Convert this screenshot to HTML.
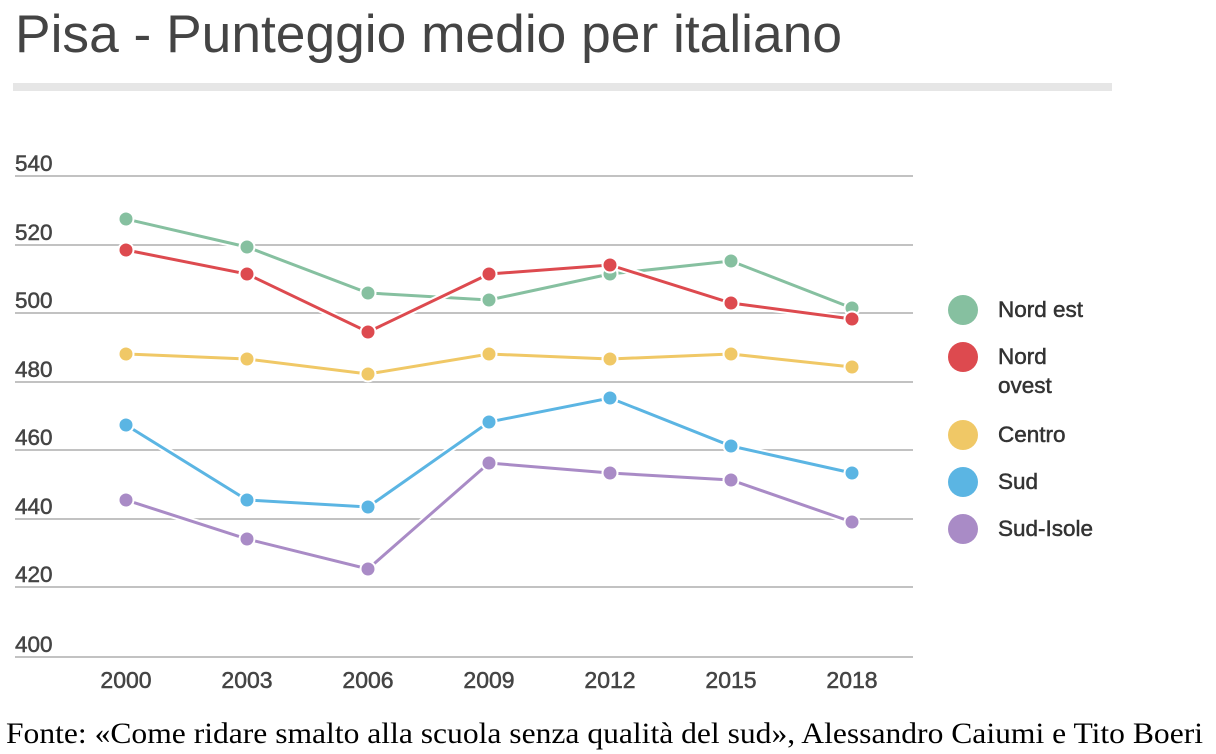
<!DOCTYPE html>
<html><head><meta charset="utf-8"><style>
html,body{margin:0;padding:0;background:#fff;}
svg{display:block;}
</style></head><body>
<svg width="1216" height="754" viewBox="0 0 1216 754" xmlns="http://www.w3.org/2000/svg">
<rect width="1216" height="754" fill="#fff"/>
<text x="15" y="52" font-family="Liberation Sans, sans-serif" font-size="53" fill="#444" textLength="827" lengthAdjust="spacingAndGlyphs">Pisa - Punteggio medio per italiano</text>
<rect x="13" y="83" width="1099" height="8" fill="#e6e6e6"/>
<g stroke="#c2c2c2" stroke-width="2">
<line x1="15" y1="176" x2="913" y2="176"/>
<line x1="15" y1="245" x2="913" y2="245"/>
<line x1="15" y1="313" x2="913" y2="313"/>
<line x1="15" y1="382" x2="913" y2="382"/>
<line x1="15" y1="450" x2="913" y2="450"/>
<line x1="15" y1="519" x2="913" y2="519"/>
<line x1="15" y1="587" x2="913" y2="587"/>
<line x1="15" y1="657" x2="913" y2="657"/>
</g>
<g font-family="Liberation Sans, sans-serif" font-size="22.5" fill="#444" stroke="#444" stroke-width="0.5">
<text x="15" y="171">540</text>
<text x="15" y="240">520</text>
<text x="15" y="308">500</text>
<text x="15" y="377">480</text>
<text x="15" y="445">460</text>
<text x="15" y="514">440</text>
<text x="15" y="582">420</text>
<text x="15" y="652">400</text>
</g>
<g font-family="Liberation Sans, sans-serif" font-size="23" fill="#444" stroke="#444" stroke-width="0.5" text-anchor="middle">
<text x="126" y="688">2000</text>
<text x="247" y="688">2003</text>
<text x="368" y="688">2006</text>
<text x="489" y="688">2009</text>
<text x="610" y="688">2012</text>
<text x="731" y="688">2015</text>
<text x="852" y="688">2018</text>
</g>
<!-- Nord est -->
<g>
<polyline fill="none" stroke="#fff" stroke-width="7" points="126,219 247,247 368,293 489,300 610,274 731,261 852,308"/>
<polyline fill="none" stroke="#86c0a0" stroke-width="3" points="126,219 247,247 368,293 489,300 610,274 731,261 852,308"/>
<g fill="#86c0a0" stroke="#fff" stroke-width="2">
<circle cx="126" cy="219" r="7.5"/><circle cx="247" cy="247" r="7.5"/><circle cx="368" cy="293" r="7.5"/><circle cx="489" cy="300" r="7.5"/><circle cx="610" cy="274" r="7.5"/><circle cx="731" cy="261" r="7.5"/><circle cx="852" cy="308" r="7.5"/>
</g></g>
<!-- Nord ovest -->
<g>
<polyline fill="none" stroke="#fff" stroke-width="7" points="126,250 247,274 368,332 489,274 610,265 731,303 852,319"/>
<polyline fill="none" stroke="#dd4a4f" stroke-width="3" points="126,250 247,274 368,332 489,274 610,265 731,303 852,319"/>
<g fill="#dd4a4f" stroke="#fff" stroke-width="2">
<circle cx="126" cy="250" r="7.5"/><circle cx="247" cy="274" r="7.5"/><circle cx="368" cy="332" r="7.5"/><circle cx="489" cy="274" r="7.5"/><circle cx="610" cy="265" r="7.5"/><circle cx="731" cy="303" r="7.5"/><circle cx="852" cy="319" r="7.5"/>
</g></g>
<!-- Centro -->
<g>
<polyline fill="none" stroke="#fff" stroke-width="7" points="126,354 247,359 368,374 489,354 610,359 731,354 852,367"/>
<polyline fill="none" stroke="#f0c866" stroke-width="3" points="126,354 247,359 368,374 489,354 610,359 731,354 852,367"/>
<g fill="#f0c866" stroke="#fff" stroke-width="2">
<circle cx="126" cy="354" r="7.5"/><circle cx="247" cy="359" r="7.5"/><circle cx="368" cy="374" r="7.5"/><circle cx="489" cy="354" r="7.5"/><circle cx="610" cy="359" r="7.5"/><circle cx="731" cy="354" r="7.5"/><circle cx="852" cy="367" r="7.5"/>
</g></g>
<!-- Sud -->
<g>
<polyline fill="none" stroke="#fff" stroke-width="7" points="126,425 247,500 368,507 489,422 610,398 731,446 852,473"/>
<polyline fill="none" stroke="#5bb5e3" stroke-width="3" points="126,425 247,500 368,507 489,422 610,398 731,446 852,473"/>
<g fill="#5bb5e3" stroke="#fff" stroke-width="2">
<circle cx="126" cy="425" r="7.5"/><circle cx="247" cy="500" r="7.5"/><circle cx="368" cy="507" r="7.5"/><circle cx="489" cy="422" r="7.5"/><circle cx="610" cy="398" r="7.5"/><circle cx="731" cy="446" r="7.5"/><circle cx="852" cy="473" r="7.5"/>
</g></g>
<!-- Sud-Isole -->
<g>
<polyline fill="none" stroke="#fff" stroke-width="7" points="126,500 247,539 368,569 489,463 610,473 731,480 852,522"/>
<polyline fill="none" stroke="#a98bc6" stroke-width="3" points="126,500 247,539 368,569 489,463 610,473 731,480 852,522"/>
<g fill="#a98bc6" stroke="#fff" stroke-width="2">
<circle cx="126" cy="500" r="7.5"/><circle cx="247" cy="539" r="7.5"/><circle cx="368" cy="569" r="7.5"/><circle cx="489" cy="463" r="7.5"/><circle cx="610" cy="473" r="7.5"/><circle cx="731" cy="480" r="7.5"/><circle cx="852" cy="522" r="7.5"/>
</g></g>
<!-- Legend -->
<circle cx="963" cy="310" r="15" fill="#86c0a0"/>
<circle cx="963" cy="357" r="15" fill="#dd4a4f"/>
<circle cx="963" cy="435" r="15" fill="#f0c866"/>
<circle cx="963" cy="482" r="15" fill="#5bb5e3"/>
<circle cx="963" cy="529" r="15" fill="#a98bc6"/>
<g font-family="Liberation Sans, sans-serif" font-size="22.5" fill="#333" stroke="#333" stroke-width="0.5">
<text x="998" y="317">Nord est</text>
<text x="998" y="364">Nord</text>
<text x="998" y="393">ovest</text>
<text x="998" y="442">Centro</text>
<text x="998" y="489">Sud</text>
<text x="998" y="536">Sud-Isole</text>
</g>
<text x="6" y="743" font-family="Liberation Serif, serif" font-size="30" fill="#000" textLength="1197" lengthAdjust="spacingAndGlyphs">Fonte: «Come ridare smalto alla scuola senza qualità del sud», Alessandro Caiumi e Tito Boeri</text>
</svg>
</body></html>
